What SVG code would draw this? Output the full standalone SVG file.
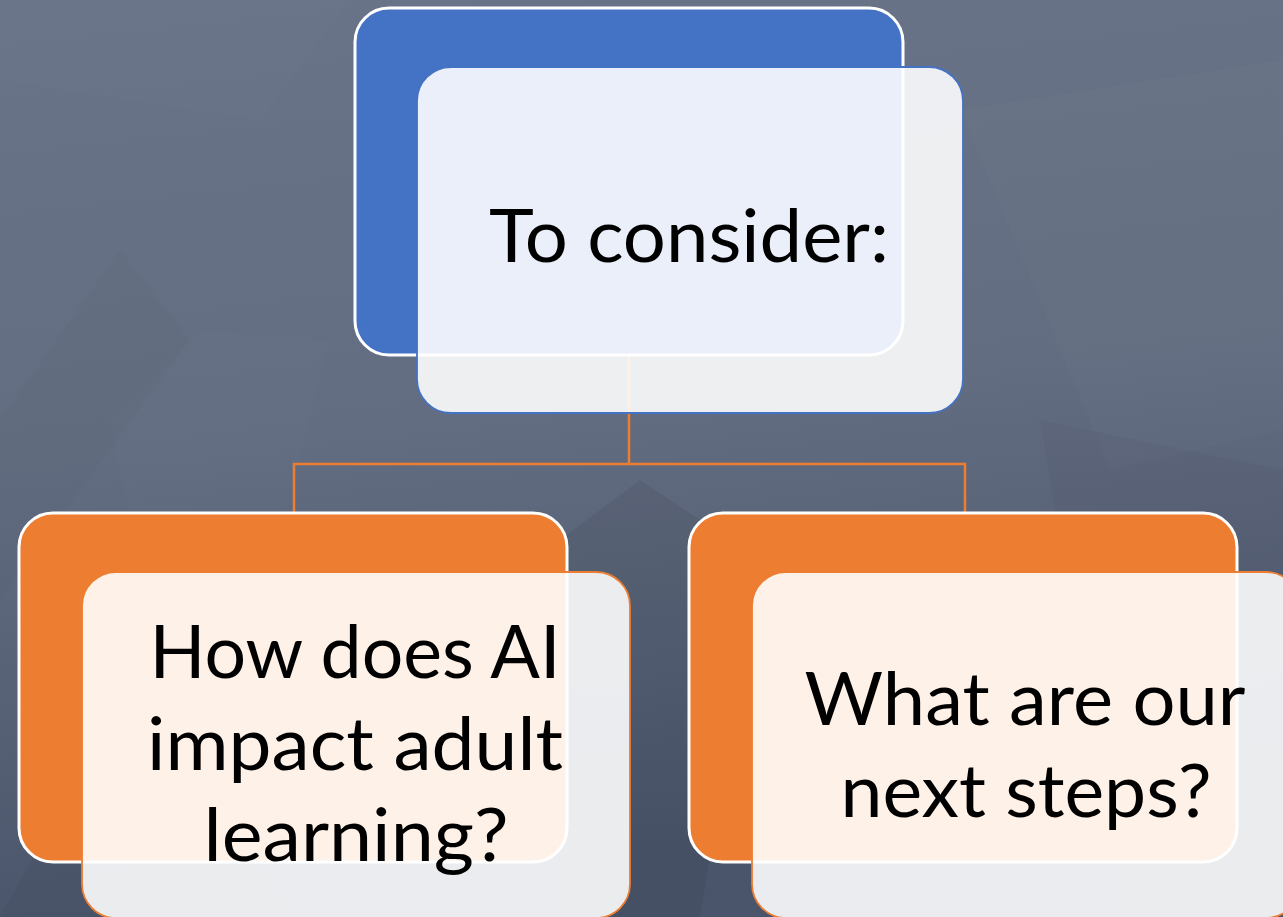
<svg xmlns="http://www.w3.org/2000/svg" width="1283" height="917" viewBox="0 0 1283 917">
<defs>
<linearGradient id="bg" x1="0" y1="0" x2="0.15" y2="1">
<stop offset="0" stop-color="#6A7488"/>
<stop offset="0.5" stop-color="#636D81"/>
<stop offset="1" stop-color="#4A556B"/>
</linearGradient>
<style>
.back-blue{fill:#4472C4;stroke:#FFFFFF;stroke-width:3}
.back-orange{fill:#ED7D31;stroke:#FFFFFF;stroke-width:3}
.card{fill:#FFFFFF;fill-opacity:0.89;stroke-width:1.8}
.card-blue{stroke:#4472C4}
.card-orange{stroke:#ED7D31}
.conn{fill:none;stroke:#ED7D31;stroke-width:2.5}
.lbl{font-family:Lato,"Open Sans","Liberation Sans",sans-serif;font-size:73px;fill:#000000;text-anchor:middle}
</style>
</defs>
<rect x="0" y="0" width="1283" height="917" fill="url(#bg)"/>
<g id="texture">
<polygon points="0,420 120,250 190,340 0,600" fill="#000" fill-opacity="0.015"/>
<polygon points="110,420 200,330 330,340 200,860" fill="#fff" fill-opacity="0.012"/>
<polygon points="0,917 120,700 300,917" fill="#000" fill-opacity="0.03"/>
<polygon points="560,540 640,480 760,560 700,917 560,917" fill="#000" fill-opacity="0.06"/>
<polygon points="960,110 1283,60 1283,430 1110,470" fill="#fff" fill-opacity="0.015"/>
<polygon points="1040,420 1283,470 1283,917 1120,917" fill="#000" fill-opacity="0.03"/>
<polygon points="0,0 350,0 260,120 0,80" fill="#fff" fill-opacity="0.012"/>
</g>
<g id="connectors">
<path class="conn" d="M629,355 V464 M294,512 V464 H965 V512"/>
</g>
<g id="node-top">
<rect class="back-blue" x="355" y="8" width="548" height="347" rx="34"/>
<rect class="card card-blue" x="417" y="67" width="546" height="346" rx="34"/>
<text class="lbl" x="689" y="262" textLength="400" lengthAdjust="spacingAndGlyphs">To consider:</text>
</g>
<g id="node-left">
<rect class="back-orange" x="19" y="513" width="548" height="349" rx="34"/>
<rect class="card card-orange" x="82" y="572" width="548" height="346" rx="34"/>
<text class="lbl" x="355" y="678" textLength="411" lengthAdjust="spacingAndGlyphs">How does AI</text>
<text class="lbl" x="355" y="770" textLength="416" lengthAdjust="spacingAndGlyphs">impact adult</text>
<text class="lbl" x="356" y="861" textLength="305" lengthAdjust="spacingAndGlyphs">learning?</text>
</g>
<g id="node-right">
<rect class="back-orange" x="689" y="513" width="548" height="349" rx="34"/>
<rect class="card card-orange" x="752" y="572" width="548" height="346" rx="34"/>
<text class="lbl" x="1025" y="725" textLength="441" lengthAdjust="spacingAndGlyphs">What are our</text>
<text class="lbl" x="1026" y="817" textLength="371" lengthAdjust="spacingAndGlyphs">next steps?</text>
</g>
</svg>
